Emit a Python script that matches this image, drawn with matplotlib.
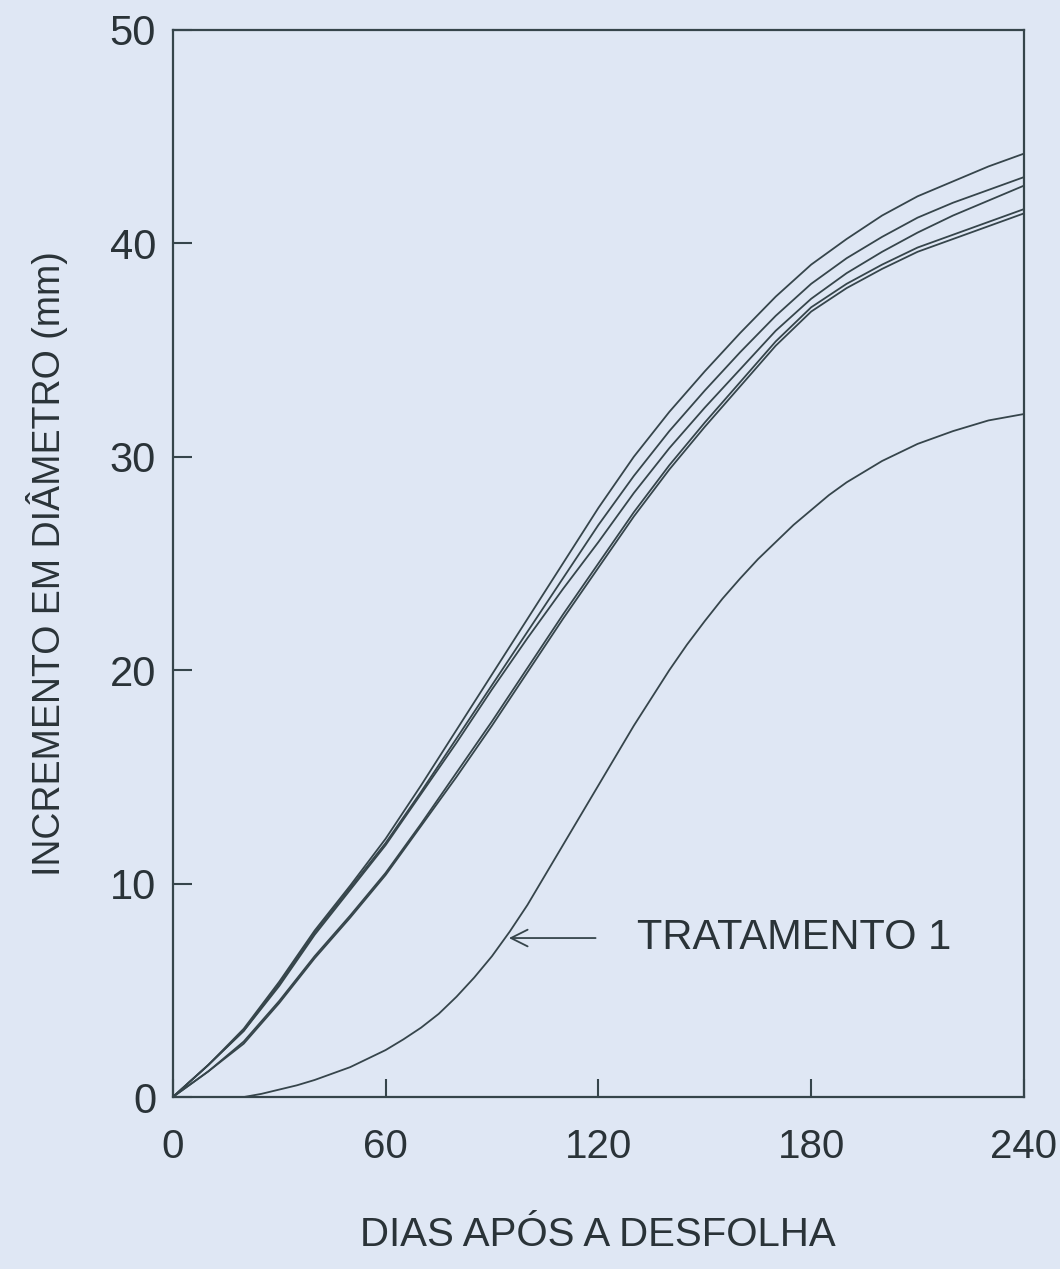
import matplotlib.pyplot as plt

# days after defoliation (leitura a cada 10 dias)
dias = [0, 10, 20, 30, 40, 50, 60, 70, 80, 90, 100, 110, 120,
        130, 140, 150, 160, 170, 180, 190, 200, 210, 220, 230, 240]

# diameter increment (mm), one list per treatment curve
curva_a = [0, 1.5, 3.2, 5.4, 7.8, 9.9, 12.1, 14.6, 17.2, 19.8, 22.4, 25.0, 27.6,
           30.0, 32.1, 34.0, 35.8, 37.5, 39.0, 40.2, 41.3, 42.2, 42.9, 43.6, 44.2]
curva_b = [0, 1.5, 3.1, 5.3, 7.7, 9.8, 11.9, 14.3, 16.8, 19.3, 21.8, 24.3, 26.8,
           29.1, 31.2, 33.1, 34.9, 36.6, 38.1, 39.3, 40.3, 41.2, 41.9, 42.5, 43.1]
curva_c = [0, 1.5, 3.1, 5.2, 7.6, 9.7, 11.8, 14.2, 16.6, 19.1, 21.5, 23.8, 26.0,
           28.3, 30.4, 32.3, 34.1, 35.9, 37.4, 38.6, 39.6, 40.5, 41.3, 42.0, 42.7]
curva_d = [0, 1.2, 2.6, 4.5, 6.6, 8.5, 10.5, 12.8, 15.2, 17.6, 20.1, 22.6, 25.0,
           27.4, 29.6, 31.6, 33.5, 35.4, 37.0, 38.1, 39.0, 39.8, 40.4, 41.0, 41.6]
curva_e = [0, 1.2, 2.5, 4.4, 6.5, 8.4, 10.4, 12.7, 15.0, 17.4, 19.9, 22.4, 24.8,
           27.2, 29.4, 31.4, 33.3, 35.2, 36.8, 37.9, 38.8, 39.6, 40.2, 40.8, 41.4]

# tratamento 1 bends sharply, so it was read every 5 days
dias_t1 = [0, 5, 10, 15, 20, 25, 30, 35, 40, 45, 50, 55, 60, 65, 70, 75, 80,
           85, 90, 95, 100, 105, 110, 115, 120, 125, 130, 135, 140, 145, 150,
           155, 160, 165, 170, 175, 180, 185, 190, 195, 200, 205, 210, 215,
           220, 225, 230, 235, 240]
tratamento_1 = [0, 0, 0, 0, 0, 0.15, 0.35, 0.55, 0.8, 1.1, 1.4, 1.8, 2.2, 2.7,
                3.25, 3.9, 4.7, 5.6, 6.6, 7.75, 9.0, 10.4, 11.8, 13.2, 14.6,
                16.0, 17.4, 18.7, 20.0, 21.2, 22.3, 23.35, 24.3, 25.2, 26.0,
                26.8, 27.5, 28.2, 28.8, 29.3, 29.8, 30.2, 30.6, 30.9, 31.2,
                31.45, 31.7, 31.85, 32.0]

x_ticks = [0, 60, 120, 180, 240]
y_ticks = [0, 10, 20, 30, 40, 50]

paper = '#dfe7f4'
ink = '#36454b'
texto = '#2a3338'

plt.rcParams['font.family'] = ['Liberation Sans', 'DejaVu Sans']

fig = plt.figure(figsize=(10.6, 12.69), dpi=100, facecolor=paper)
ax = fig.add_axes([0.163, 0.1355, 0.803, 0.841])
ax.set_facecolor(paper)

for serie in [curva_a, curva_b, curva_c, curva_d, curva_e]:
    ax.plot(dias, serie, color=ink, lw=1.3)
ax.plot(dias_t1, tratamento_1, color=ink, lw=1.3)

ax.set_xlim(0, 240)
ax.set_ylim(0, 50)
ax.set_xticks(x_ticks)
ax.set_yticks(y_ticks)

for s in ax.spines.values():
    s.set_color(ink)
    s.set_linewidth(1.6)

ax.tick_params(axis='x', direction='in', length=13, width=1.5, color=ink,
               pad=22, labelsize=29, labelcolor=texto)
ax.tick_params(axis='y', direction='in', length=14, width=1.5, color=ink,
               pad=12, labelsize=30, labelcolor=texto)

ax.set_xlabel('DIAS APÓS A DESFOLHA', fontsize=29, color=texto, labelpad=36)
ax.set_ylabel('INCREMENTO EM DIÂMETRO (mm)', fontsize=27, color=texto, labelpad=30)

# label and arrow pointing at treatment 1
ax.annotate('', xy=(94, 7.45), xytext=(120, 7.45),
            arrowprops=dict(arrowstyle='->', color=ink, lw=1.3,
                            mutation_scale=30))
ax.text(131, 7.45, 'TRATAMENTO 1', fontsize=30, color=texto,
        va='center', ha='left')

fig.savefig('out.png', dpi=100, facecolor=paper)
